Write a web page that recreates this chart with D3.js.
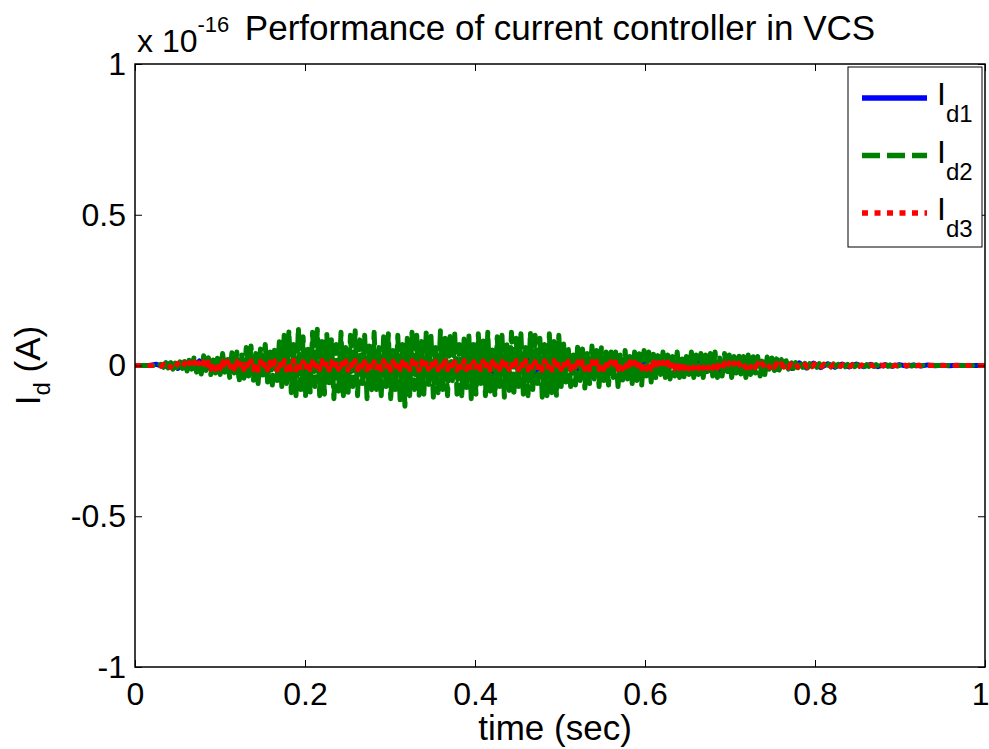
<!DOCTYPE html>
<html>
<head>
<meta charset="utf-8">
<script src="https://cdn.jsdelivr.net/npm/d3@7"></script>
<style>
  body { margin: 0; background: #fff; }
  svg { display: block; }
  text { font-family: "Liberation Sans", Arial, sans-serif; fill: #000; }
</style>
</head>
<body>
<div id="chart"></div>
<script>
// tick values and labels
const xTicks = [0, 0.2, 0.4, 0.6, 0.8, 1];
const xTickLabels = ['0', '0.2', '0.4', '0.6', '0.8', '1'];
const yTicks = [-1, -0.5, 0, 0.5, 1];
const yTickLabels = ['-1', '-0.5', '0', '0.5', '1'];
const seriesNames = ['d1', 'd2', 'd3'];

// Id1 (units of 1e-16 A), sampled evenly over 0..1 s
const id1 = [
  0,0,0,0.004,-0.004,0.008,-0.01,0.012,-0.008,0.015,-0.012,0.016,-0.014,0.018,-0.016,0.02,-0.018,0.022,-0.02,0.025,
  -0.022,0.026,-0.025,0.022,-0.027,0.025,-0.022,0.028,-0.026,0.022,-0.025,0.027,-0.023,0.025,-0.028,0.022,-0.025,0.027,-0.022,0.025,
  -0.026,0.024,-0.022,0.027,-0.025,0.022,-0.027,0.025,-0.023,0.026,-0.025,0.022,-0.027,0.024,-0.022,0.026,-0.025,0.023,-0.027,0.028,
  -0.03,0.027,-0.025,0.024,-0.028,0.022,-0.025,0.026,-0.022,0.024,-0.025,0.02,-0.022,0.024,-0.02,0.022,-0.024,0.02,-0.018,0.022,
  -0.02,0.018,-0.02,0.016,-0.018,0.017,-0.015,0.016,-0.014,0.012,-0.013,0.01,-0.01,0.009,-0.008,0.008,-0.007,0.006,-0.006,0.005,
  -0.005,0.005,-0.004,0.004,-0.004,0.003,-0.003,0.003,-0.002,0.002,-0.002,0.002,-0.001,0.001,-0.001,0.001,0,0,0,0
];

// Id2
const id2 = [
  0,0,0,0,0,0,0,0,0,0,0,0.004,-0.006,0.01,-0.008,0.014,-0.012,0.008,-0.015,0.012,
  -0.01,0.02,-0.018,0.025,-0.012,0.03,-0.022,0.015,-0.028,0.032,-0.02,0.026,-0.03,0.018,-0.025,0.035,-0.03,0.04,-0.022,0.03,
  -0.04,0.05,-0.03,0.045,-0.055,0.035,-0.045,0.06,-0.035,0.065,-0.05,0.04,-0.06,0.055,-0.04,0.07,-0.055,0.05,-0.065,0.06,
  -0.05,0.085,-0.07,0.1,-0.06,0.115,-0.09,0.07,-0.1,0.125,-0.08,0.095,-0.105,0.06,-0.09,0.11,-0.07,0.12,-0.1,0.08,
  -0.095,0.105,-0.06,0.09,-0.11,0.07,-0.085,0.11,-0.1,0.06,-0.095,0.1,-0.07,0.115,-0.1,0.085,-0.06,0.1,-0.11,0.075,
  -0.09,0.11,-0.08,0.06,-0.1,0.095,-0.07,0.105,-0.11,0.05,-0.09,0.1,-0.12,0.07,-0.135,0.09,-0.1,0.11,-0.08,0.1,
  -0.1,0.08,-0.095,0.11,-0.07,0.1,-0.105,0.06,-0.09,0.115,-0.08,0.09,-0.1,0.105,-0.06,0.11,-0.095,0.07,-0.1,0.09,
  -0.08,0.1,-0.11,0.07,-0.095,0.105,-0.06,0.09,-0.1,0.11,-0.085,0.06,-0.1,0.095,-0.07,0.1,-0.105,0.08,-0.09,0.11,
  -0.1,0.09,-0.07,0.105,-0.095,0.06,-0.1,0.11,-0.08,0.1,-0.06,0.09,-0.105,0.07,-0.1,0.105,-0.09,0.08,-0.1,0.1,
  -0.07,0.075,-0.055,0.06,-0.07,0.045,-0.065,0.07,-0.05,0.055,-0.075,0.04,-0.06,0.065,-0.045,0.05,-0.07,0.06,-0.05,0.045,
  -0.065,0.05,-0.04,0.045,-0.07,0.035,-0.055,0.05,-0.045,0.03,-0.06,0.045,-0.05,0.04,-0.065,0.05,-0.035,0.045,-0.055,0.04,
  -0.045,0.04,-0.03,0.045,-0.04,0.035,-0.045,0.03,-0.035,0.045,-0.04,0.025,-0.045,0.04,-0.03,0.045,-0.04,0.035,-0.03,0.04,
  -0.04,0.035,-0.03,0.04,-0.035,0.045,-0.04,0.025,-0.035,0.04,-0.03,0.035,-0.04,0.03,-0.025,0.04,-0.035,0.03,-0.04,0.035,
  -0.03,0.035,-0.025,0.03,-0.035,0.025,-0.03,0.028,-0.022,0.025,-0.02,0.022,-0.018,0.02,-0.015,0.016,-0.012,0.014,-0.01,0.01,
  -0.008,0.008,-0.006,0.007,-0.008,0.006,-0.007,0.005,-0.006,0.006,-0.005,0.005,-0.006,0.004,-0.005,0.005,-0.004,0.004,-0.005,0.004,
  -0.004,0.004,-0.003,0.004,-0.004,0.003,-0.003,0.003,-0.004,0.003,-0.003,0.002,-0.003,0.003,-0.002,0.003,-0.002,0.002,-0.003,0.002,
  -0.002,0.002,-0.002,0.001,-0.002,0.002,-0.001,0.001,-0.002,0.001,-0.001,0.001,-0.001,0.001,-0.001,0.001,0,0.001,0,0,
  0,0,0,0,0,0,0,0,0,0,0,0,0,0,0,0,0,0,0,0
];

// Id3
const id3 = [
  0,0,0,0,0,0,0,0,0,0,0.002,-0.003,0.004,-0.004,0.005,-0.006,0.006,-0.005,0.007,-0.007,
  -0.008,0.008,-0.009,0.01,-0.008,0.011,-0.01,0.009,-0.011,0.012,-0.01,0.011,-0.012,0.01,-0.013,0.012,-0.011,0.013,-0.012,0.014,
  -0.013,0.015,-0.012,0.014,-0.016,0.013,-0.014,0.016,-0.012,0.015,-0.014,0.013,-0.016,0.014,-0.013,0.016,-0.015,0.012,-0.014,0.015,
  -0.016,0.014,-0.013,0.016,-0.015,0.013,-0.014,0.017,-0.015,0.014,-0.016,0.013,-0.015,0.016,-0.014,0.013,-0.016,0.015,-0.013,0.016,
  -0.014,0.016,-0.015,0.013,-0.016,0.015,-0.013,0.016,-0.014,0.015,-0.016,0.014,-0.013,0.016,-0.015,0.014,-0.016,0.013,-0.015,0.016,
  -0.015,0.013,-0.016,0.015,-0.014,0.016,-0.013,0.015,-0.016,0.014,-0.015,0.016,-0.014,0.013,-0.016,0.015,-0.014,0.016,-0.013,0.015,
  -0.016,0.014,-0.015,0.016,-0.013,0.015,-0.016,0.014,-0.015,0.013,-0.016,0.015,-0.014,0.016,-0.015,0.013,-0.016,0.014,-0.015,0.016,
  -0.014,0.015,-0.016,0.013,-0.015,0.016,-0.014,0.015,-0.013,0.016,-0.015,0.014,-0.016,0.015,-0.013,0.014,-0.016,0.015,-0.014,0.013,
  -0.015,0.016,-0.014,0.015,-0.013,0.016,-0.015,0.014,-0.016,0.013,-0.015,0.014,-0.016,0.015,-0.014,0.013,-0.015,0.016,-0.014,0.015,
  -0.014,0.013,-0.015,0.014,-0.013,0.015,-0.014,0.013,-0.012,0.014,-0.013,0.012,-0.014,0.013,-0.012,0.014,-0.013,0.012,-0.013,0.012,
  -0.012,0.013,-0.011,0.012,-0.013,0.011,-0.012,0.013,-0.011,0.012,-0.012,0.011,-0.013,0.012,-0.011,0.012,-0.012,0.011,-0.012,0.011,
  -0.011,0.01,-0.012,0.011,-0.01,0.011,-0.011,0.01,-0.011,0.01,-0.01,0.011,-0.01,0.01,-0.011,0.01,-0.009,0.01,-0.01,0.009,
  -0.009,0.01,-0.009,0.008,-0.009,0.009,-0.008,0.009,-0.009,0.008,-0.008,0.009,-0.008,0.008,-0.009,0.008,-0.008,0.007,-0.008,0.008,
  -0.007,0.008,-0.007,0.007,-0.007,0.006,-0.007,0.007,-0.006,0.007,-0.006,0.006,-0.006,0.006,-0.005,0.006,-0.006,0.005,-0.005,0.005,
  -0.005,0.005,-0.005,0.004,-0.005,0.004,-0.004,0.005,-0.004,0.004,-0.004,0.004,-0.004,0.003,-0.004,0.003,-0.003,0.004,-0.003,0.003,
  -0.003,0.003,-0.003,0.003,-0.002,0.003,-0.003,0.002,-0.002,0.003,-0.002,0.002,-0.002,0.002,-0.002,0.002,-0.002,0.002,-0.001,0.002,
  -0.002,0.001,-0.001,0.002,-0.001,0.001,-0.001,0.001,-0.001,0.001,-0.001,0.001,0,0.001,0,0,0,0,0,0,
  0,0,0,0,0,0,0,0,0,0,0,0,0,0,0,0,0,0,0,0
];

const W = 989, H = 749;
const plot = { left: 135, right: 985, top: 64, bottom: 667 };
const tickSize = 32, labelSize = 35, subSize = 22;

const svg = d3.select('#chart').append('svg')
    .attr('width', W)
    .attr('height', H);

const x = d3.scaleLinear().domain([0, 1]).range([plot.left, plot.right]);
const y = d3.scaleLinear().domain([-1, 1]).range([plot.bottom, plot.top]);

svg.append('defs').append('clipPath').attr('id', 'clip')
  .append('rect')
    .attr('x', plot.left).attr('y', plot.top)
    .attr('width', plot.right - plot.left).attr('height', plot.bottom - plot.top);

// lines
const series = [
  { data: id1, color: '#0000ff', dash: null, cap: 'round' },
  { data: id2, color: '#008000', dash: '18,7', cap: 'round' },
  { data: id3, color: '#ff0000', dash: '6,6.5', cap: 'butt' }
];

const lineGen = arr => d3.line()
    .x((d, i) => x(i / (arr.length - 1)))
    .y(d => y(d))(arr);

const g = svg.append('g').attr('clip-path', 'url(#clip)');
series.forEach(s => {
  g.append('path')
      .attr('d', lineGen(s.data))
      .attr('fill', 'none')
      .attr('stroke', s.color)
      .attr('stroke-width', 5)
      .attr('stroke-linejoin', 'round')
      .attr('stroke-linecap', s.cap)
      .attr('stroke-dasharray', s.dash);
});

// axes, MATLAB style ticks pointing inward
const tickLen = 7;
svg.append('g').attr('transform', `translate(0,${plot.bottom})`)
    .call(d3.axisBottom(x).tickValues(xTicks).tickFormat((d, i) => xTickLabels[i])
      .tickSizeInner(-tickLen).tickSizeOuter(0).tickPadding(15));
svg.append('g').attr('transform', `translate(0,${plot.top})`)
    .call(d3.axisTop(x).tickValues(xTicks).tickFormat('')
      .tickSizeInner(-tickLen).tickSizeOuter(0));
svg.append('g').attr('transform', `translate(${plot.left},0)`)
    .call(d3.axisLeft(y).tickValues(yTicks).tickFormat((d, i) => yTickLabels[i])
      .tickSizeInner(-tickLen).tickSizeOuter(0).tickPadding(9));
svg.append('g').attr('transform', `translate(${plot.right},0)`)
    .call(d3.axisRight(y).tickValues(yTicks).tickFormat('')
      .tickSizeInner(-tickLen).tickSizeOuter(0));

svg.selectAll('.domain').remove();
svg.selectAll('.tick line').attr('stroke', '#000').attr('stroke-width', 1);
svg.selectAll('.tick text')
    .style('font-family', '"Liberation Sans", Arial, sans-serif')
    .style('font-size', tickSize + 'px')
    .attr('fill', '#000');
// last x label sits on the figure edge
svg.selectAll('.tick text').filter(function () { return this.textContent === '1' && this.getAttribute('y') !== null && +this.getAttribute('y') > 0; })
    .attr('text-anchor', 'end').attr('x', 4);

// box
svg.append('rect')
    .attr('x', plot.left).attr('y', plot.top)
    .attr('width', plot.right - plot.left).attr('height', plot.bottom - plot.top)
    .attr('fill', 'none').attr('stroke', '#000').attr('stroke-width', 1.5);

// exponent label and title
const expo = svg.append('text').attr('x', 137).attr('y', 52).style('font-size', tickSize + 'px');
expo.append('tspan').text('x 10');
expo.append('tspan').attr('dy', -20).style('font-size', subSize + 'px').text('-16');

svg.append('text')
    .attr('x', (plot.left + plot.right) / 2).attr('y', 40)
    .attr('text-anchor', 'middle')
    .style('font-size', labelSize + 'px')
    .text('Performance of current controller in VCS');

// axis labels
svg.append('text')
    .attr('x', (plot.left + plot.right) / 2 - 5).attr('y', 740)
    .attr('text-anchor', 'middle')
    .style('font-size', labelSize + 'px')
    .text('time (sec)');

const yl = svg.append('text')
    .attr('transform', `translate(40,${(plot.top + plot.bottom) / 2}) rotate(-90)`)
    .attr('text-anchor', 'middle')
    .style('font-size', labelSize + 'px');
yl.append('tspan').text('I');
yl.append('tspan').attr('dy', 10).style('font-size', (subSize + 2) + 'px').text('d');
yl.append('tspan').attr('dy', -10).text(' (A)');

// legend
const leg = svg.append('g');
leg.append('rect')
    .attr('x', 848).attr('y', 67).attr('width', 134).attr('height', 180)
    .attr('fill', '#fff').attr('stroke', '#000').attr('stroke-width', 1);
series.forEach((s, i) => {
  const ly = 98 + i * 57.5;
  leg.append('line')
      .attr('x1', 862).attr('x2', 927).attr('y1', ly).attr('y2', ly)
      .attr('stroke', s.color).attr('stroke-width', 5.5)
      .attr('stroke-dasharray', s.dash);
  const t = leg.append('text').attr('x', 937).attr('y', ly + 7).style('font-size', tickSize + 'px');
  t.append('tspan').text('I');
  t.append('tspan').attr('dy', 17).style('font-size', (subSize + 2) + 'px').text(seriesNames[i]);
});
</script>
</body>
</html>
